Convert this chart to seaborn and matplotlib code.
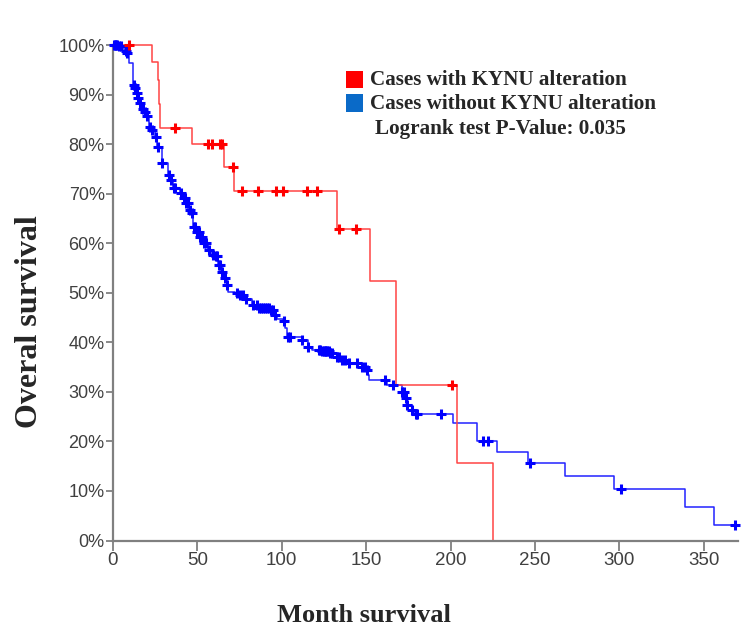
import numpy as np
import pandas as pd
import matplotlib
matplotlib.use("Agg")
import matplotlib.pyplot as plt
from matplotlib.patches import Rectangle
import seaborn as sns

# Kaplan-Meier step levels (months, % surviving) for each group
red_times = [0, 22.9, 26.8, 27.2, 27.7, 47.0, 65.8, 71.5, 132.5, 152.2, 167.4, 203.6, 225.1]
red_surv = [100, 96.6, 93.0, 88.0, 83.3, 80.0, 75.4, 70.6, 62.8, 52.3, 31.4, 15.7, 0]
red_censor = [9.6, 36.6, 56.4, 58.6, 63.3, 64.6, 71.0, 76.2, 85.9, 96.3, 100.6,
              114.9, 121.0, 133.8, 144.1, 200.8]

blue_times = [0, 3.1, 5.5, 7.1, 8.1, 9.7, 12.0, 13.0, 14.0, 14.6, 15.6, 17.0, 18.5,
              19.7, 21.5, 22.5, 24.9, 25.9, 28.9, 32.8, 33.8, 35.7, 39.7, 41.6, 43.2,
              45.2, 46.6, 47.6, 49.6, 51.5, 53.5, 56.5, 58.5, 60.4, 62.4, 64.4, 65.9,
              67.4, 68.3, 72.3, 75.2, 78.2, 82.2, 86.1, 93.0, 95.6, 97.0, 100.9, 101.9,
              102.9, 111.8, 115.7, 117.7, 123.6, 128.6, 132.5, 135.5, 139.4, 147.3,
              149.9, 151.2, 151.8, 162.1, 171.0, 173.0, 174.0, 177.0, 178.9, 201.7,
              215.6, 227.4, 246.1, 267.5, 296.9, 338.8, 356.2, 368.4]
blue_surv = [100, 99.7, 99.2, 98.7, 98.4, 96.4, 92.0, 91.3, 90.3, 89.3, 88.2, 87.1, 86.5,
             85.7, 83.5, 82.9, 81.4, 79.5, 76.1, 73.8, 72.8, 71.1, 70.1, 69.1, 68.2,
             66.8, 66.0, 63.3, 62.3, 61.3, 60.0, 58.6, 57.6, 57.4, 55.6, 54.2, 52.9,
             51.6, 50.2, 49.9, 49.5, 48.7, 47.5, 46.9, 46.5, 45.5, 44.8, 44.2, 42.8,
             41.1, 40.5, 39.1, 38.4, 38.2, 37.8, 37.1, 36.4, 35.8, 35.1, 34.4, 33.4,
             32.4, 31.4, 30.0, 28.7, 27.3, 26.3, 25.6, 23.7, 20.0, 17.8, 15.6, 13.0,
             10.3, 6.7, 3.2, 3.2]
blue_censor = [0.3, 1.0, 1.8, 2.6, 3.4, 5.0, 7.5, 8.3, 12.4, 13.3, 14.2, 15.0, 16.0,
               17.5, 18.8, 20.2, 21.8, 23.0, 25.3, 26.5, 29.3, 33.0, 34.3, 36.2, 37.0,
               40.2, 41.8, 42.5, 43.5, 44.5, 45.5, 46.8, 48.0, 48.8, 50.0, 50.8, 51.8,
               52.6, 54.0, 55.0, 57.0, 59.0, 60.8, 61.6, 62.8, 63.6, 64.8, 66.2, 67.8,
               73.5, 75.5, 77.0, 78.8, 83.0, 85.5, 86.6, 87.8, 89.0, 90.2, 91.5, 92.5,
               93.5, 94.5, 96.0, 101.3, 103.7, 104.9, 111.8, 115.7, 122.0, 122.8, 123.8,
               124.8, 125.5, 126.3, 127.0, 128.0, 128.8, 130.0, 132.8, 133.8, 135.8,
               137.5, 139.7, 144.4, 147.6, 149.3, 150.5, 161.1, 166.0, 171.3, 172.5,
               173.5, 174.3, 177.3, 179.3, 180.3, 194.5, 219.4, 222.0, 247.3, 300.8,
               368.4]

x_ticks = [0, 50, 100, 150, 200, 250, 300, 350]
y_ticks = [0, 10, 20, 30, 40, 50, 60, 70, 80, 90, 100]
y_tick_labels = [f"{v}%" for v in y_ticks]

legend_labels = ["Cases with KYNU alteration", "Cases without KYNU alteration"]
logrank_text = "Logrank test P-Value: 0.035"
x_title = "Month survival"
y_title = "Overal survival"


def level_at(times, surv, t):
    idx = np.searchsorted(times, t, side="right") - 1
    return np.asarray(surv)[idx]


sns.set_theme(style="white")
plt.rcParams["font.family"] = ["Liberation Sans", "DejaVu Sans"]

W, H = 744, 627
fig = plt.figure(figsize=(W / 100, H / 100), dpi=100)
ax = fig.add_axes([113 / W, 1 - 540.5 / H, (737.6 - 113) / W, (540.5 - 45) / H])

curves = pd.concat([
    pd.DataFrame({"month": red_times, "surv": red_surv, "grp": "alt"}),
    pd.DataFrame({"month": blue_times, "surv": blue_surv, "grp": "noalt"}),
])
censors = pd.concat([
    pd.DataFrame({"month": red_censor,
                  "surv": level_at(red_times, red_surv, red_censor), "grp": "alt"}),
    pd.DataFrame({"month": blue_censor,
                  "surv": level_at(blue_times, blue_surv, blue_censor), "grp": "noalt"}),
])

line_cols = {"alt": "#ff4444", "noalt": "#2222ff"}
mark_cols = {"alt": "#ff0000", "noalt": "#0000ff"}

for g in ["noalt", "alt"]:
    sub = curves[curves.grp == g]
    sns.lineplot(data=sub, x="month", y="surv", drawstyle="steps-post",
                 estimator=None, sort=False, color=line_cols[g], lw=1.1, ax=ax,
                 clip_on=False)
for g in ["noalt", "alt"]:
    sub = censors[censors.grp == g]
    sns.scatterplot(data=sub, x="month", y="surv", marker="+", s=50,
                    linewidth=2.2, color=mark_cols[g], ax=ax, clip_on=False,
                    zorder=5)

ax.set_xlim(0, 370)
ax.set_ylim(0, 100)
ax.set_xticks(x_ticks)
ax.set_xticklabels([str(v) for v in x_ticks])
ax.set_yticks(y_ticks)
ax.set_yticklabels(y_tick_labels)
ax.set_xlabel("")
ax.set_ylabel("")
for s in ["top", "right"]:
    ax.spines[s].set_visible(False)
for s in ["left", "bottom"]:
    ax.spines[s].set_color("#808080")
    ax.spines[s].set_linewidth(1.6)
ax.tick_params(axis="x", direction="out", length=7, width=1.3, color="#808080",
               labelsize=13.5, labelcolor="#404040", pad=1, bottom=True)
ax.tick_params(axis="y", direction="out", length=5, width=1.3, color="#808080",
               labelsize=13, labelcolor="#404040", pad=1, left=True)
ax.grid(False)

serif_bold = dict(family=["Liberation Serif", "DejaVu Serif"], weight="bold")
fig.text(364 / W, 1 - 616 / H, x_title, ha="center", va="center", fontsize=19,
         **serif_bold)
fig.text(30 / W, 1 - 322 / H, y_title, ha="center", va="center", fontsize=23,
         rotation=90, **serif_bold)

# legend
for (y0, col) in [(70.7, "#ff0000"), (94.5, "#0a6ac8")]:
    fig.add_artist(Rectangle((345.7 / W, 1 - (y0 + 17.6) / H), 17.6 / W, 17.6 / H,
                             transform=fig.transFigure, facecolor=col,
                             edgecolor="none"))
fig.text(370.5 / W, 1 - 80 / H, legend_labels[0], ha="left", va="center",
         fontsize=15.2, **serif_bold)
fig.text(370.5 / W, 1 - 104 / H, legend_labels[1], ha="left", va="center",
         fontsize=15.2, **serif_bold)
fig.text(375 / W, 1 - 129 / H, logrank_text, ha="left", va="center",
         fontsize=15.2, **serif_bold)

fig.savefig("out.png", dpi=100)
